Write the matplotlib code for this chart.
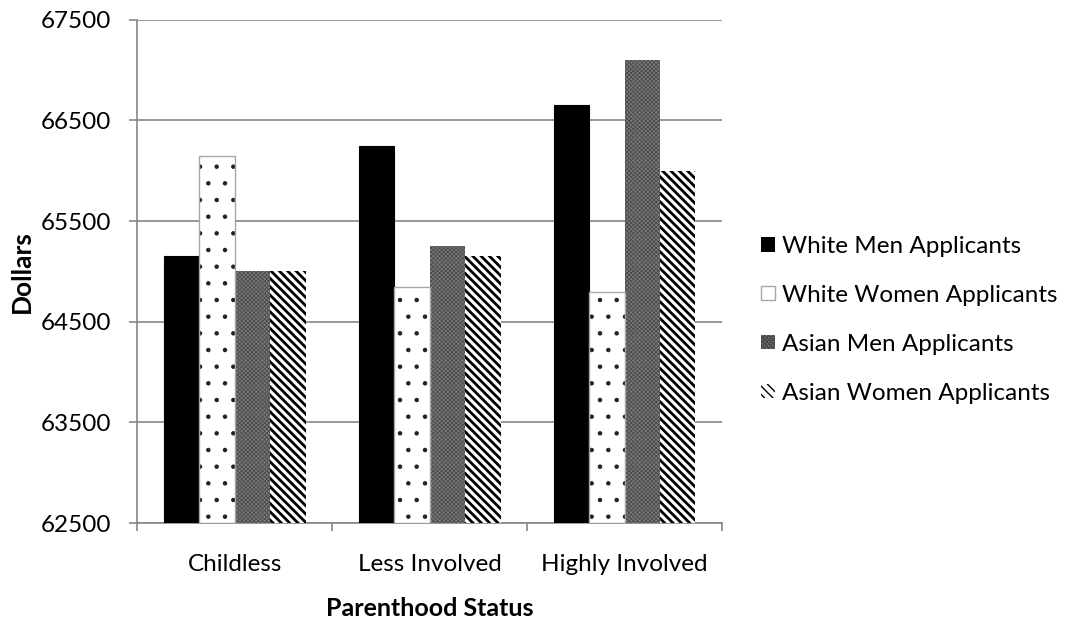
import matplotlib
matplotlib.use("Agg")
import matplotlib.pyplot as plt
from matplotlib.patches import Patch
import numpy as np

categories = ["Childless", "Less Involved", "Highly Involved"]
series_names = ["White Men Applicants", "White Women Applicants",
                "Asian Men Applicants", "Asian Women Applicants"]
white_men = [65150, 66250, 66650]
white_women = [66150, 64850, 64800]
asian_men = [65000, 65250, 67100]
asian_women = [65000, 65150, 66000]
y_ticks = [62500, 63500, 64500, 65500, 66500, 67500]

plt.rcParams['font.family'] = ['Lato', 'DejaVu Sans']

fig = plt.figure(figsize=(10.72, 6.19), dpi=100)
ax = fig.add_axes([0.128, 0.155, 0.5455, 0.813])

x = np.arange(len(categories))
w = 0.182
offsets = (np.arange(4) - 1.5) * w
base = 62500

styles = [
    dict(facecolor='black', edgecolor='black', hatch=None, linewidth=0.8),
    dict(facecolor='white', edgecolor='#222222', hatch='.', linewidth=0),
    dict(facecolor='#7a7a7a', edgecolor='#4a4a4a', hatch='xxxxxxxx', linewidth=0),
    dict(facecolor='white', edgecolor='black', hatch='\\\\\\\\', linewidth=0),
]
hatch_lw = [1.0, 0.8, 0.6, 2.0]
data = [white_men, white_women, asian_men, asian_women]
for i, (vals, st) in enumerate(zip(data, styles)):
    heights = np.array(vals) - base
    b = ax.bar(x + offsets[i], heights, w, bottom=base, zorder=3, **st)
    for p in b:
        if hasattr(p, 'set_hatch_linewidth'):
            p.set_hatch_linewidth(hatch_lw[i])
    if i == 1:
        ax.bar(x + offsets[i], heights, w, bottom=base, fill=False,
               edgecolor='#a6a6a6', linewidth=1.0, zorder=4)

ax.set_ylim(62500, 67500)
ax.set_xlim(-0.5, 2.5)
ax.set_yticks(y_ticks)
ax.set_yticklabels([str(v) for v in y_ticks], fontsize=17.5)
ax.yaxis.grid(True, color='#868686', linewidth=1.2, zorder=0)
ax.set_axisbelow(True)

ax.set_xticks(x)
ax.set_xticklabels(categories, fontsize=17.5)
ax.set_xticks([-0.5, 0.5, 1.5, 2.5], minor=True)
ax.tick_params(axis='x', which='major', length=0, pad=22)
ax.tick_params(axis='x', which='minor', length=6, color='#868686', width=1.2)
ax.tick_params(axis='y', length=6, color='#868686', width=1.2, pad=13)

for s in ['top', 'right']:
    ax.spines[s].set_visible(False)
for s in ['left', 'bottom']:
    ax.spines[s].set_color('#868686')
    ax.spines[s].set_linewidth(1.2)

ax.set_ylabel("Dollars", fontsize=19, fontweight='bold', labelpad=5)
ax.set_xlabel("Parenthood Status", fontsize=18, fontweight='bold', labelpad=16)

handles = []
for i, st in enumerate(styles):
    if i == 1:
        h = Patch(facecolor='white', edgecolor='#a6a6a6', linewidth=1.0,
                  label=series_names[i])
    else:
        h = Patch(facecolor=st['facecolor'], edgecolor=st['edgecolor'],
                  hatch=st['hatch'], linewidth=0, label=series_names[i])
    handles.append(h)

leg = ax.legend(handles=handles, loc='center left', bbox_to_anchor=(1.03, 0.404),
                frameon=False, fontsize=17.5, handlelength=0.55, handleheight=0.55,
                handletextpad=0.3, labelspacing=1.15)

fig.savefig("out.png", dpi=100)
